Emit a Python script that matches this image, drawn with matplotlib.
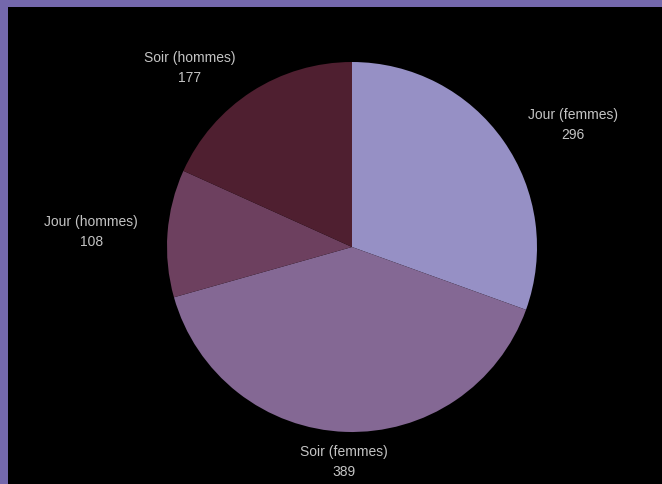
import numpy as np
import matplotlib
matplotlib.use("Agg")
import matplotlib.pyplot as plt
from matplotlib.patches import Rectangle

labels = ["Jour (femmes)", "Soir (femmes)", "Jour (hommes)", "Soir (hommes)"]
values = [296, 389, 108, 177]
colors = ["#9690c5", "#846894", "#6d405f", "#4f1f30"]

W, H = 662, 485
CX, CY, R = 352, 248, 185  # pixel centre / radius of the pie

fig = plt.figure(figsize=(W / 100, H / 100), dpi=100, facecolor="black")
ax = fig.add_axes([0, 0, 1, 1])
ax.set_facecolor("black")

wedges, _ = ax.pie(values, colors=colors, startangle=90, counterclock=False,
                   wedgeprops=dict(linewidth=0))

ax.set_xlim(-CX / R, (W - CX) / R)
ax.set_ylim(-(H - CY) / R, CY / R)
ax.set_aspect("auto")
ax.axis("off")

dist = 1.16
for w, lab, val in zip(wedges, labels, values):
    ang = np.deg2rad((w.theta1 + w.theta2) / 2)
    x, y = dist * np.cos(ang), dist * np.sin(ang)
    if abs(np.cos(ang)) < 0.15:
        ha = "center"
    else:
        ha = "left" if x > 0 else "right"
    ax.text(x, y, f"{lab}\n{val}", ha=ha, va="center", multialignment="center",
            color="#c4c4c4", fontsize=10, family="Liberation Sans",
            linespacing=1.55)

# purple frame on left and top
fig.patches.append(Rectangle((0, 0), 8 / W, 1, transform=fig.transFigure,
                             facecolor="#7468ac", edgecolor="none", zorder=5))
fig.patches.append(Rectangle((0, 1 - 8 / H), 1, 8 / H, transform=fig.transFigure,
                             facecolor="#7468ac", edgecolor="none", zorder=5))

fig.savefig("out.png", dpi=100, facecolor="black")
